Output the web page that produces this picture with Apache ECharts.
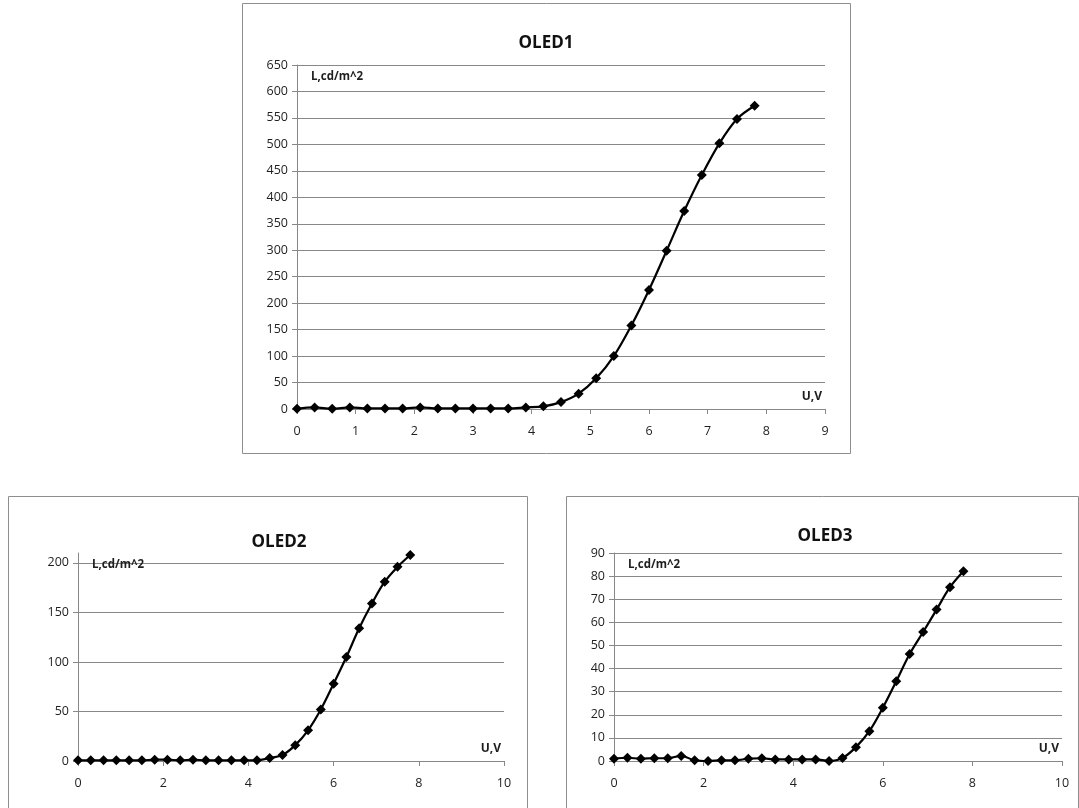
<!DOCTYPE html>
<html>
<head>
<meta charset="utf-8">
<title>OLED</title>
<script src="https://cdn.jsdelivr.net/npm/echarts@6/dist/echarts.min.js"></script>
<style>
  html, body { margin: 0; padding: 0; background: #fff; }
  #chart { width: 1079px; height: 808px; }
</style>
</head>
<body>
<div id="chart"></div>
<script>
// U, V
var voltage = [0, 0.3, 0.6, 0.9, 1.2, 1.5, 1.8, 2.1, 2.4, 2.7, 3.0, 3.3, 3.6, 3.9,
  4.2, 4.5, 4.8, 5.1, 5.4, 5.7, 6.0, 6.3, 6.6, 6.9, 7.2, 7.5, 7.8];
// L, cd/m^2
var oled1 = [0.5, 3, 0.5, 3, 1, 1, 1, 3, 1, 1, 1, 1, 1, 3,
  5, 13, 29, 58, 100, 158, 225, 299, 374, 442, 502, 548, 573];
var oled2 = [0.7, 0.7, 0.7, 0.7, 0.7, 0.7, 1.3, 1.3, 0.7, 1.3, 0.7, 0.7, 0.7, 0.7,
  0.7, 3, 6, 16, 31, 52, 78, 105, 134, 159, 181, 196, 208];
var oled3 = [1.0, 1.4, 1.0, 1.2, 1.2, 2.2, 0.3, 0, 0.3, 0.3, 1.0, 1.2, 0.7, 0.7,
  0.7, 0.7, 0, 1.3, 6.0, 12.9, 23, 34.5, 46.3, 55.8, 65.5, 75.2, 82.1];
var titles = ['OLED1', 'OLED2', 'OLED3'];
var yName = 'L,cd/m^2';
var xName = 'U,V';

var FONT = 'Open Sans';
var gridColor = '#888';
var textColor = '#1e1e1e';

function pairs(ys) {
  return voltage.map(function (u, i) { return [u, ys[i]]; });
}

function xAxis(idx, max, step) {
  return {
    type: 'value', gridIndex: idx, min: 0, max: max, interval: step,
    name: xName, nameLocation: 'end', nameGap: -3,
    nameTextStyle: { fontFamily: FONT, fontWeight: 'bold', fontSize: 12, color: textColor,
      align: 'right', verticalAlign: 'bottom', padding: [0, 0, 6, 0] },
    axisLine: { lineStyle: { color: gridColor, width: 1 } },
    axisTick: { show: true, length: 5, lineStyle: { color: gridColor } },
    axisLabel: { fontFamily: FONT, fontSize: 12.5, color: textColor, margin: 16 },
    splitLine: { show: false }
  };
}

function yAxis(idx, max, step, lineColors) {
  return {
    type: 'value', gridIndex: idx, min: 0, max: max, interval: step,
    name: yName, nameLocation: 'end', nameGap: -12,
    nameTextStyle: { fontFamily: FONT, fontWeight: 'bold', fontSize: 11.5, color: textColor,
      align: 'left', verticalAlign: 'middle', padding: [0, 0, 0, 14] },
    axisLine: { show: true, lineStyle: { color: gridColor, width: 1 } },
    axisTick: { show: true, length: 5, lineStyle: { color: gridColor } },
    axisLabel: { fontFamily: FONT, fontSize: 12.5, color: textColor, margin: 9, showMaxLabel: lineColors ? false : true },
    splitLine: { show: true, lineStyle: { color: lineColors || gridColor, width: 1 } }
  };
}

function series(idx, ys) {
  return {
    type: 'line', xAxisIndex: idx, yAxisIndex: idx,
    data: pairs(ys),
    smooth: 0.35,
    symbol: 'diamond', symbolSize: 10,
    itemStyle: { color: '#000' },
    lineStyle: { color: '#000', width: 2.2 },
    animation: false
  };
}

function frame(x, y, w, h) {
  return {
    type: 'rect', silent: true,
    shape: { x: x, y: y, width: w, height: h },
    style: { fill: 'none', stroke: '#8e8e8e', lineWidth: 1 }
  };
}

var chart = echarts.init(document.getElementById('chart'));
var g = gridColor, none = 'rgba(0,0,0,0)';
var titleStyle = { fontFamily: FONT, fontSize: 17, fontWeight: 'bold', color: '#111' };

chart.setOption({
  backgroundColor: '#fff',
  animation: false,
  title: [
    { text: titles[0], left: 546, top: 35, textAlign: 'center', padding: 0, textStyle: titleStyle },
    { text: titles[1], left: 279, top: 534, textAlign: 'center', padding: 0, textStyle: titleStyle },
    { text: titles[2], left: 825, top: 528, textAlign: 'center', padding: 0, textStyle: titleStyle }
  ],
  graphic: [
    frame(242.5, 3.5, 608, 450),
    frame(8.5, 496.5, 519, 330),
    frame(566.5, 496.5, 512, 330)
  ],
  grid: [
    { left: 297, top: 65, width: 528, height: 344 },
    { left: 78, top: 553, width: 426, height: 208 },
    { left: 614, top: 553, width: 448, height: 208 }
  ],
  xAxis: [xAxis(0, 9, 1), xAxis(1, 10, 2), xAxis(2, 10, 2)],
  yAxis: [
    yAxis(0, 650, 50),
    yAxis(1, 210, 50, [g, g, g, g, g, none]),
    yAxis(2, 90, 10)
  ],
  series: [series(0, oled1), series(1, oled2), series(2, oled3)]
});
</script>
</body>
</html>
